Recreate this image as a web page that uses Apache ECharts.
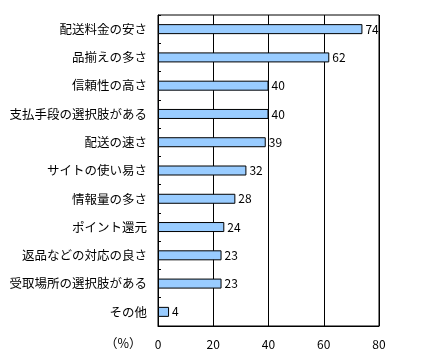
<!DOCTYPE html>
<html><head><meta charset="utf-8">
<script src="https://cdn.jsdelivr.net/npm/echarts@6/dist/echarts.min.js"></script>
<style>html,body{margin:0;padding:0;background:#fff}#c{width:425px;height:360px}</style>
</head><body><div id="c"></div>
<script>
const categories = ['配送料金の安さ','品揃えの多さ','信頼性の高さ','支払手段の選択肢がある','配送の速さ','サイトの使い易さ','情報量の多さ','ポイント還元','返品などの対応の良さ','受取場所の選択肢がある','その他'];
const values = [74, 62, 40, 40, 39, 32, 28, 24, 23, 23, 4];
const xTicks = [0, 20, 40, 60, 80];
const unitLabel = '（%）';

const font = '"Noto Sans CJK JP", "Noto Sans", sans-serif';
const chart = echarts.init(document.getElementById('c'), null, {renderer: 'canvas'});
chart.setOption({
  animation: false,
  textStyle: {fontFamily: font},
  grid: {left: 158, top: 15, width: 221, height: 311, show: true, borderColor: '#000', borderWidth: 1, containLabel: false},
  xAxis: {
    type: 'value', min: xTicks[0], max: xTicks[xTicks.length-1], interval: 20,
    axisLine: {show: true, lineStyle: {color: '#000'}},
    axisTick: {show: false},
    splitLine: {show: true, lineStyle: {color: '#000', width: 1}},
    axisLabel: {color: '#000', fontSize: 12, margin: 12, fontFamily: font}
  },
  yAxis: {
    type: 'category', data: categories, inverse: true,
    axisLine: {show: true, lineStyle: {color: '#000'}},
    axisTick: {show: true, inside: true, length: 3, lineStyle: {color: '#000'}},
    axisLabel: {color: '#000', fontSize: 12.5, margin: 11, fontFamily: font},
    splitLine: {show: false}
  },
  series: [{
    type: 'bar', data: values, barWidth: 10,
    itemStyle: {color: '#99ccff', borderColor: '#000', borderWidth: 1},
    label: {show: true, position: 'right', distance: 3, color: '#000', fontSize: 12, fontFamily: font}
  }],
  graphic: [{type: 'text', left: 105, top: 337, style: {text: unitLabel, fill: '#000', font: '12.5px ' + font}}]
});
</script></body></html>
